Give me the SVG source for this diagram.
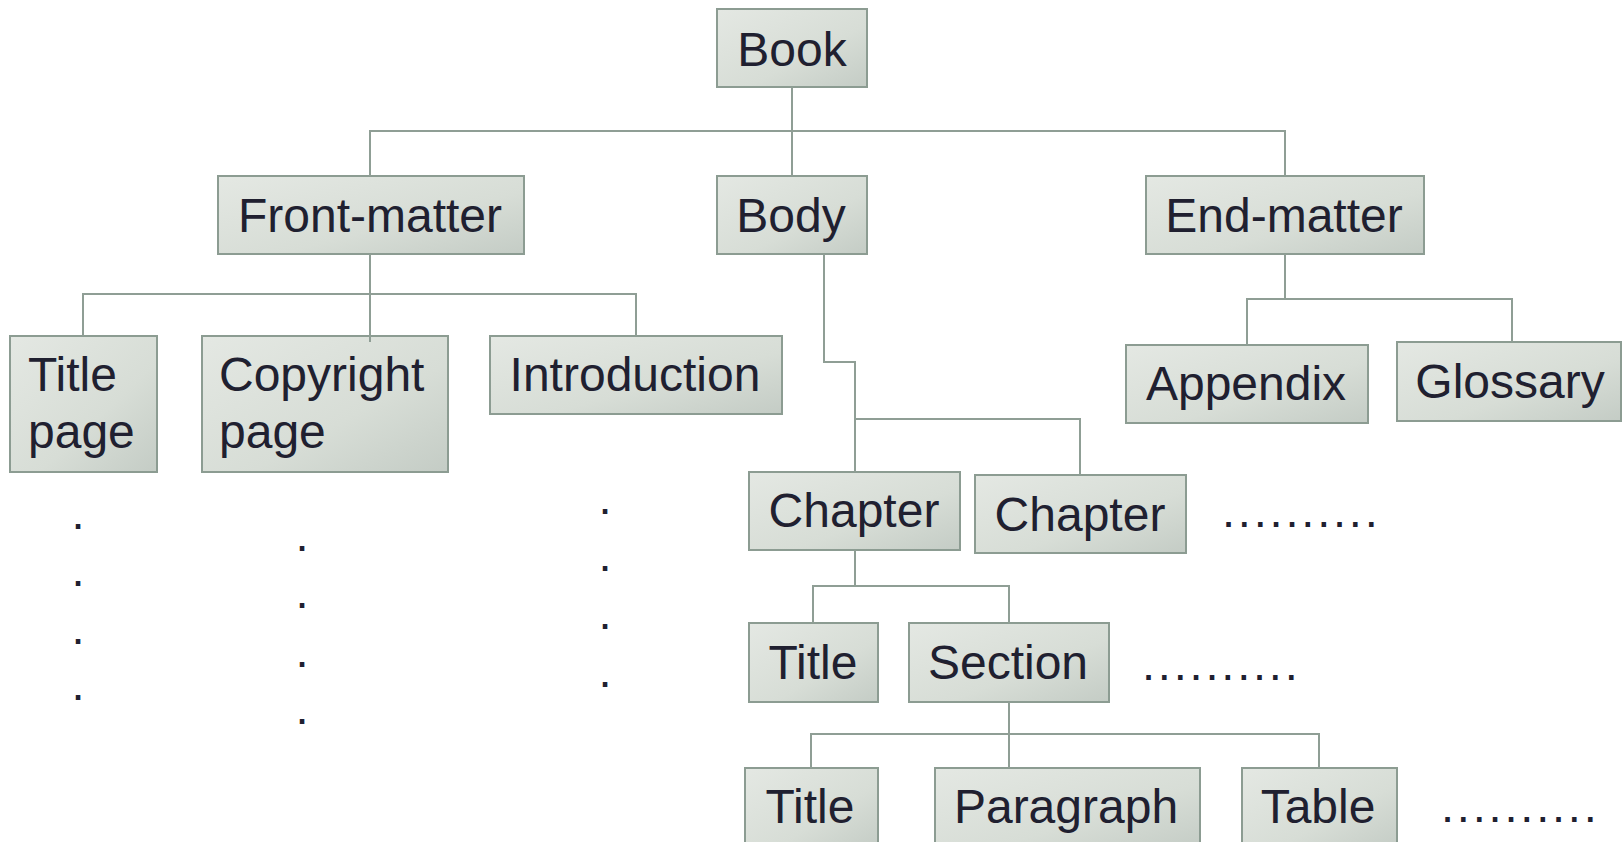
<svg xmlns="http://www.w3.org/2000/svg" width="1622" height="842" viewBox="0 0 1622 842">
<defs>
<linearGradient id="g" x1="0" y1="0" x2="1" y2="1">
<stop offset="0" stop-color="#e4e8e3"/>
<stop offset="0.6" stop-color="#d7ddd6"/>
<stop offset="1" stop-color="#c4ccc5"/>
</linearGradient>
<style>
.box{fill:url(#g);stroke:#8c9c92;stroke-width:2}
.t{font-family:"Liberation Sans",Arial,sans-serif;font-size:48px;fill:#202030;text-anchor:middle}
.tl{font-family:"Liberation Sans",Arial,sans-serif;font-size:48px;fill:#202030}
.d{font-family:"Liberation Sans",Arial,sans-serif;font-size:47px;fill:#202030;text-anchor:middle}
.dr{font-family:"Liberation Sans",Arial,sans-serif;font-size:47px;fill:#202030;letter-spacing:2.8px}
.c{fill:none;stroke:#8f9e95;stroke-width:2}
</style>
</defs>
<rect width="1622" height="842" fill="#ffffff"/>
<g id="book"><rect class="box" x="717" y="9" width="150" height="78"/><text class="t" x="792" y="66">Book</text></g>
<g id="front-matter"><rect class="box" x="218" y="176" width="306" height="78"/><text class="t" x="370" y="232">Front-matter</text></g>
<g id="body"><rect class="box" x="717" y="176" width="150" height="78"/><text class="t" x="791" y="232">Body</text></g>
<g id="end-matter"><rect class="box" x="1146" y="176" width="278" height="78"/><text class="t" x="1284" y="232">End-matter</text></g>
<g id="title-page"><rect class="box" x="10" y="336" width="147" height="136"/><text class="tl" x="28" y="391">Title</text><text class="tl" x="28" y="448">page</text></g>
<g id="copyright-page"><rect class="box" x="202" y="336" width="246" height="136"/><text class="tl" x="219" y="391">Copyright</text><text class="tl" x="219" y="448">page</text></g>
<g id="introduction"><rect class="box" x="490" y="336" width="292" height="78"/><text class="t" x="635" y="391">Introduction</text></g>
<g id="appendix"><rect class="box" x="1126" y="345" width="242" height="78"/><text class="t" x="1246" y="400">Appendix</text></g>
<g id="glossary"><rect class="box" x="1397" y="342" width="224" height="79"/><text class="t" x="1510" y="398">Glossary</text></g>
<g id="chapter1"><rect class="box" x="749" y="472" width="211" height="78"/><text class="t" x="854" y="527">Chapter</text></g>
<g id="chapter2"><rect class="box" x="975" y="475" width="211" height="78"/><text class="t" x="1080" y="531">Chapter</text></g>
<g id="chapter-title"><rect class="box" x="749" y="623" width="129" height="79"/><text class="t" x="813" y="679">Title</text></g>
<g id="section"><rect class="box" x="909" y="623" width="200" height="79"/><text class="t" x="1008" y="679">Section</text></g>
<g id="section-title"><rect class="box" x="745" y="768" width="133" height="82"/><text class="t" x="810" y="823">Title</text></g>
<g id="paragraph"><rect class="box" x="935" y="768" width="265" height="82"/><text class="t" x="1066" y="823">Paragraph</text></g>
<g id="table"><rect class="box" x="1242" y="768" width="155" height="82"/><text class="t" x="1318" y="823">Table</text></g>
<g id="connectors">
<path class="c" d="M792 87V176"/>
<path class="c" d="M370 176V131H1285V176"/>
<path class="c" d="M370 254V342"/>
<path class="c" d="M83 336V294H636V336"/>
<path class="c" d="M824 254V362H855V472"/>
<path class="c" d="M855 419H1080V475"/>
<path class="c" d="M1285 254V299"/>
<path class="c" d="M1247 345V299H1512V342"/>
<path class="c" d="M855 550V586"/>
<path class="c" d="M813 623V586H1009V623"/>
<path class="c" d="M1009 702V768"/>
<path class="c" d="M811 768V734H1319V768"/>
</g>
<g id="ellipses">
<text class="dr" x="1222" y="527">..........</text>
<text class="dr" x="1142" y="680">..........</text>
<text class="dr" x="1441" y="822">..........</text>
<text class="d" x="78" y="529">.</text>
<text class="d" x="78" y="586">.</text>
<text class="d" x="78" y="644">.</text>
<text class="d" x="78" y="700">.</text>
<text class="d" x="302" y="551">.</text>
<text class="d" x="302" y="608">.</text>
<text class="d" x="302" y="667">.</text>
<text class="d" x="302" y="724">.</text>
<text class="d" x="605" y="514">.</text>
<text class="d" x="605" y="571">.</text>
<text class="d" x="605" y="629">.</text>
<text class="d" x="605" y="687">.</text>
</g>
</svg>
